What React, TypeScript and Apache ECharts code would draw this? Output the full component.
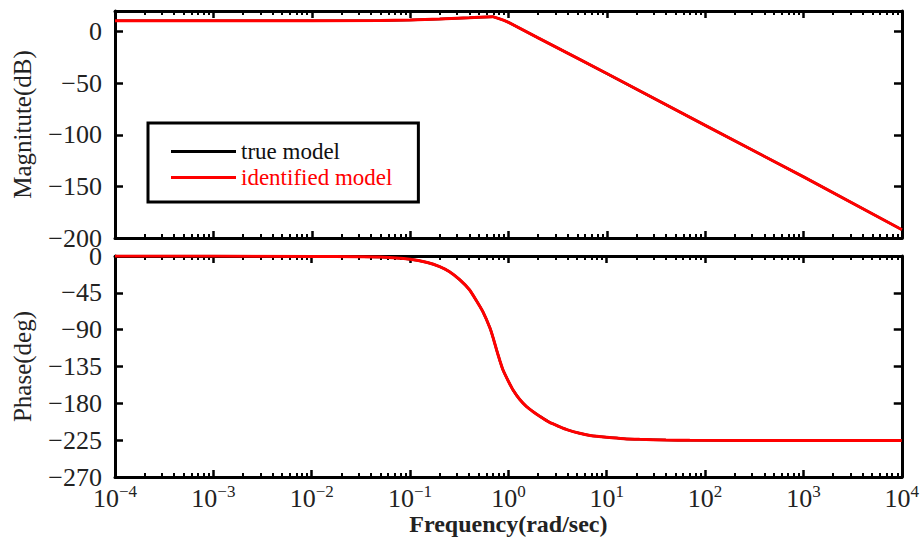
import React, { useEffect, useRef } from 'react';
import * as echarts from 'echarts';

// ---- data ----
const magFreq = [1e-4, 1e-3, 1e-2, 0.05, 0.1, 0.2, 0.3, 0.4, 0.5, 0.6, 0.69, 0.8, 0.9, 1, 2, 5, 10, 100, 1000, 10000];
const magTrue = [10.5, 10.5, 10.5, 10.7, 11.2, 12.2, 12.9, 13.4, 13.9, 14.3, 14.5, 12.6, 10.9, 9.0, -6.0, -25.7, -40.6, -90.8, -140.8, -192];
const magIdent = [10.5, 10.5, 10.5, 10.7, 11.2, 12.2, 12.9, 13.4, 13.9, 14.3, 14.5, 12.6, 10.9, 9.0, -6.0, -25.7, -40.6, -90.8, -140.8, -192];

const phaseFreq = [1e-4, 1e-3, 1e-2, 0.03, 0.05, 0.1, 0.15, 0.2, 0.25, 0.32, 0.4, 0.47, 0.55, 0.65, 0.7, 0.76, 0.82, 0.88, 1.0, 1.12, 1.3, 1.53, 1.8, 2.1, 2.6, 3.3, 4, 5.3, 7, 10, 15, 21.6, 40, 70, 1000, 10000];
const phaseTrue = [0, -0.05, -0.5, -0.9, -1.2, -4, -8, -13, -19, -29, -41, -54, -68, -88, -100, -115, -128, -139, -153, -164, -175, -184, -190.5, -196, -203, -208.5, -212.5, -216.6, -219.6, -221.5, -223.2, -224, -224.9, -225.2, -225.5, -225.5];
const phaseIdent = [0, -0.05, -0.5, -0.9, -1.2, -4, -8, -13, -19, -29, -41, -54, -68, -88, -100, -115, -128, -139, -153, -164, -175, -184, -190.5, -196, -203, -208.5, -212.5, -216.6, -219.6, -221.5, -223.2, -224, -224.9, -225.2, -225.5, -225.5];

const magTicks = [-200, -150, -100, -50, 0];
const seriesNames = ['true model', 'identified model'];
const xAxisTitle = 'Frequency(rad/sec)';
const magTitle = 'Magnitute(dB)';
const phaseTitle = 'Phase(deg)';

const FONT = 'Liberation Serif';
const TXT = '#222';

const pair = (xs: number[], ys: number[]) => xs.map((x, i) => [x, ys[i]]);
const fmtNum = (v: number) => (v < 0 ? '\u2212' + Math.abs(v) : String(v));

function xAxis(gridIndex: number, position: 'top' | 'bottom', labels: boolean, name?: string) {
  return {
    type: 'log',
    logBase: 10,
    min: 1e-4,
    max: 1e4,
    interval: 1,
    gridIndex,
    position,
    name,
    nameLocation: 'middle',
    nameGap: 35,
    nameTextStyle: { fontFamily: FONT, fontSize: 24, fontWeight: 'bold', color: TXT },
    axisLine: { show: true, onZero: false, lineStyle: { color: '#000', width: 3 } },
    axisTick: { show: true, inside: true, length: 7, lineStyle: { color: '#000', width: 2.5 } },
    minorTick: { show: true, splitNumber: 9, length: 4, lineStyle: { color: '#000', width: 2 } },
    splitLine: { show: false },
    minorSplitLine: { show: false },
    axisLabel: {
      show: labels,
      margin: 6,
      fontFamily: FONT,
      color: TXT,
      formatter: (v: number) => {
        const e = Math.round(Math.log10(v));
        return `{b|10}{s|${e < 0 ? '\u2212' + -e : e}}`;
      },
      rich: {
        b: { fontFamily: FONT, fontSize: 26, color: TXT, lineHeight: 30 },
        s: { fontFamily: FONT, fontSize: 17, color: TXT, lineHeight: 16, verticalAlign: 'top' },
      },
    },
  };
}

function yAxis(gridIndex: number, position: 'left' | 'right', labels: boolean, opts: any, name?: string) {
  return {
    type: 'value',
    gridIndex,
    position,
    name,
    nameLocation: 'middle',
    nameGap: 80,
    nameRotate: 90,
    nameTextStyle: { fontFamily: FONT, fontSize: 25, color: TXT },
    axisLine: { show: true, onZero: false, lineStyle: { color: '#000', width: 3 } },
    splitLine: { show: false },
    ...opts,
    axisTick: { show: true, inside: true, length: 8, lineStyle: { color: '#000', width: 2.5 }, ...(opts.axisTick || {}) },
    axisLabel: {
      show: labels,
      margin: 13,
      fontFamily: FONT,
      fontSize: 26,
      color: TXT,
      formatter: (v: number) => fmtNum(v),
      ...(opts.axisLabel || {}),
    },
  };
}

export default function App() {
  const ref = useRef<HTMLDivElement>(null);
  useEffect(() => {
    if (!ref.current) return;
    const chart = echarts.init(ref.current, undefined, { renderer: 'svg' });
    const magOpts = {
      min: -200,
      max: 20,
      axisTick: { customValues: magTicks },
      axisLabel: { customValues: magTicks },
    };
    const phOpts = { min: -270, max: 0, interval: 45 };
    const lineCommon = { type: 'line', showSymbol: false, symbol: 'none' };
    chart.setOption({
      animation: false,
      backgroundColor: '#fff',
      textStyle: { fontFamily: FONT, color: TXT },
      grid: [
        { left: 115, top: 11, width: 787, height: 227 },
        { left: 115, top: 256, width: 787, height: 221 },
      ],
      legend: {
        left: 148,
        top: 123,
        orient: 'vertical',
        icon: 'rect',
        itemWidth: 65,
        itemHeight: 3,
        itemGap: 3,
        padding: [17, 26, 13, 23],
        borderColor: '#000',
        borderWidth: 3,
        backgroundColor: '#fff',
        textStyle: { fontFamily: FONT, fontSize: 23, lineHeight: 23 },
        data: [
          { name: seriesNames[0], textStyle: { color: '#111' } },
          { name: seriesNames[1], textStyle: { color: '#ff0000' } },
        ],
      },
      xAxis: [
        xAxis(0, 'bottom', false),
        xAxis(0, 'top', false),
        xAxis(1, 'bottom', true, xAxisTitle),
        xAxis(1, 'top', false),
      ],
      yAxis: [
        yAxis(0, 'left', true, magOpts, magTitle),
        yAxis(0, 'right', false, magOpts),
        yAxis(1, 'left', true, phOpts, phaseTitle),
        yAxis(1, 'right', false, phOpts),
      ],
      series: [
        { ...lineCommon, name: seriesNames[0], xAxisIndex: 0, yAxisIndex: 0, data: pair(magFreq, magTrue), lineStyle: { color: '#000', width: 2.5 }, itemStyle: { color: '#000' } },
        { ...lineCommon, name: seriesNames[1], xAxisIndex: 0, yAxisIndex: 0, data: pair(magFreq, magIdent), lineStyle: { color: '#ff0000', width: 3 }, itemStyle: { color: '#ff0000' } },
        { ...lineCommon, name: seriesNames[0], xAxisIndex: 2, yAxisIndex: 2, data: pair(phaseFreq, phaseTrue), smooth: 0.2, lineStyle: { color: '#000', width: 2.5 }, itemStyle: { color: '#000' } },
        { ...lineCommon, name: seriesNames[1], xAxisIndex: 2, yAxisIndex: 2, data: pair(phaseFreq, phaseIdent), smooth: 0.2, lineStyle: { color: '#ff0000', width: 3 }, itemStyle: { color: '#ff0000' } },
      ],
    });
    return () => chart.dispose();
  }, []);
  return <div ref={ref} style={{ position: 'absolute', left: 0, top: 0, width: 922, height: 542, background: '#fff' }} />;
}
